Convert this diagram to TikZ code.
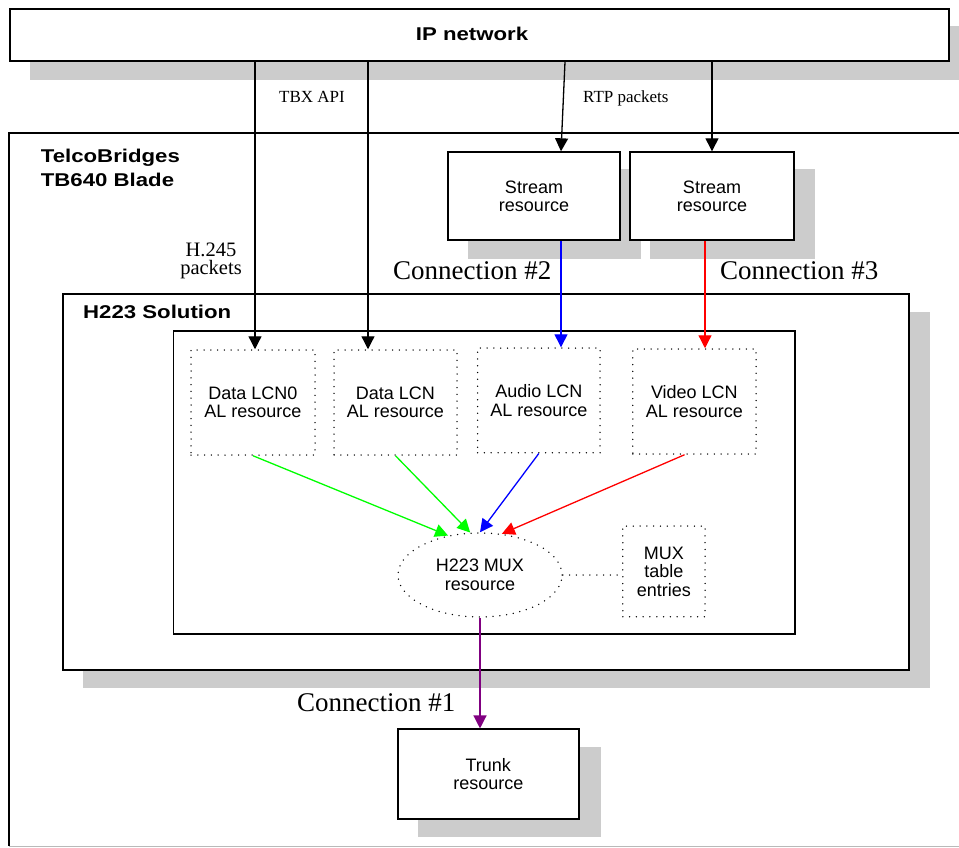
\documentclass[tikz,border=0pt]{standalone}
\usepackage{fontspec}
\setmainfont{Liberation Serif}
\setsansfont{Liberation Sans}
\newfontfamily\boldwide[FakeStretch=1.2]{Liberation Sans}
\usetikzlibrary{arrows.meta,shapes.geometric}
\definecolor{shadowgray}{RGB}{204,204,204}
\definecolor{lime}{RGB}{0,255,0}
\definecolor{purp}{RGB}{128,0,128}
\tikzset{
  shadowfill/.style={fill=shadowgray, draw=none},
  solidbox/.style={draw, line width=1.8pt, fill=white, inner sep=0pt, align=center,
     font=\sffamily\fontsize{18}{18.5}\selectfont},
  dotbox/.style={draw, line width=1.5pt, dash pattern=on 0pt off 6.8pt, line cap=round,
     fill=white, inner sep=0pt, align=center, font=\sffamily\fontsize{18}{18.5}\selectfont},
  plainbox/.style={draw, line width=1.8pt, fill=white, inner sep=0pt},
  boldlabel/.style={inner sep=0pt, align=left, font=\boldwide\bfseries\fontsize{18.5}{24}\selectfont},
  smallserif/.style={inner sep=0pt, font=\rmfamily\fontsize{17}{18}\selectfont},
  midserif/.style={inner sep=0pt, align=center, font=\rmfamily\fontsize{20.5}{18.5}\selectfont},
  bigserif/.style={inner sep=0pt, font=\rmfamily\fontsize{27}{28}\selectfont},
  arr/.style={-{Triangle[length=13pt,width=13pt]}, line width=1.3pt},
  dotline/.style={line width=1.5pt, dash pattern=on 0pt off 6.8pt, line cap=round}
}
\begin{document}
\begin{tikzpicture}[x=1pt,y=-1pt]
\useasboundingbox (0,0) rectangle (959,848);
\clip (0,0) rectangle (959,848);
\fill[white] (0,0) rectangle (959,848);

% shadows
\fill[shadowfill] (30,26) rectangle (975,80);
\fill[shadowfill] (468,169) rectangle (641,259);
\fill[shadowfill] (650,169) rectangle (815,259);
\fill[shadowfill] (83,312) rectangle (930,688);
\fill[shadowfill] (418,747.3) rectangle (600.5,837.3);

% blade frame
\draw[line width=1.8pt] (975,133) -- (9,133) -- (9,846);
\draw[line width=1.6pt, gray!55] (9,846.6) -- (975,846.6);
\node[boldlabel, anchor=north west] (blade) at (40.7,148.4) {TelcoBridges\\TB640 Blade};

% IP network
\node[plainbox, minimum width=939pt, minimum height=52pt] (ip) at (479.5,35) {};
\node[inner sep=0pt, font=\boldwide\bfseries\fontsize{18.5}{24}\selectfont, anchor=base] (iptext) at (472,40.7) {IP network};

% stream resources
\node[solidbox, minimum width=172pt, minimum height=88pt] (st1) at (534,196.2) {Stream\\resource};
\node[solidbox, minimum width=164pt, minimum height=88pt] (st2) at (712,196.2) {Stream\\resource};

% H223 solution box
\node[plainbox, minimum width=846.6pt, minimum height=375.7pt] (sol) at (486,482.15) {};
\node[boldlabel, anchor=base west] (soltext) at (83,318.3) {H223 Solution};
\node[plainbox, minimum width=621.2pt, minimum height=303.3pt] (inner) at (484.1,482.35) {};

% AL resources
\node[dotbox, minimum width=124pt, minimum height=105pt] (dl0) at (253,402.5) {Data LCN0\\AL resource};
\node[dotbox, minimum width=123pt, minimum height=105pt] (dl1) at (395.5,402.5) {Data LCN\\AL resource};
\node[dotbox, minimum width=122.4pt, minimum height=104.7pt] (al) at (538.8,400.4) {Audio LCN\\AL resource};
\node[dotbox, minimum width=123.3pt, minimum height=105pt] (vl) at (694.4,401.5) {Video LCN\\AL resource};

% MUX
\node[dotbox, ellipse, minimum width=164pt, minimum height=84pt] (mux) at (480,575) {H223 MUX\\resource};
\node[dotbox, minimum width=82.3pt, minimum height=90.7pt] (mt) at (663.9,571.4) {MUX\\table\\entries};

% trunk
\node[solidbox, minimum width=181pt, minimum height=89.7pt] (trunk) at (488.3,774.2) {Trunk\\resource};

% labels
\node[smallserif, anchor=base west] (tbx) at (279,103) {TBX API};
\node[smallserif, anchor=base west] (rtp) at (583,103) {RTP packets};
\node[midserif, anchor=north] (h245) at (211,242.5) {H.245\\packets};
\node[bigserif, anchor=base west] (c2) at (393,279) {Connection \#2};
\node[bigserif, anchor=base west] (c3) at (720,279) {Connection \#3};
\node[bigserif, anchor=base west] (c1) at (297,711.7) {Connection \#1};

% connector x positions
\coordinate (xa) at (255,0);
\coordinate (xb) at (368,0);
\coordinate (xc) at (565,0);
\coordinate (xd) at (561,0);
\coordinate (xe) at (712,0);
\coordinate (xf) at (705,0);
\coordinate (xg) at (684.5,0);

% connectors
\draw[arr] (ip.south -| xa) -- (dl0.north -| xa);
\draw[arr] (ip.south -| xb) -- (dl1.north -| xb);
\draw[arr] (ip.south -| xc) -- (st1.north -| xd);
\draw[arr] (ip.south -| xe) -- (st2.north -| xe);
\draw[arr, blue] (st1.south -| xd) -- (al.north -| xd);
\draw[arr, red] (st2.south -| xf) -- (vl.north -| xf);
\draw[arr, lime] (dl0.south) -- (mux.129);
\draw[arr, lime] (dl1.south) -- (mux.103);
\draw[arr, blue] (al.south) -- (mux.90);
\draw[arr, red] (vl.south -| xg) -- (mux.62);
\draw[arr, purp] (mux.south) -- (trunk.north -| mux.south);
\draw[dotline] (mux.east) -- (mux.east -| mt.west);
\end{tikzpicture}
\end{document}
